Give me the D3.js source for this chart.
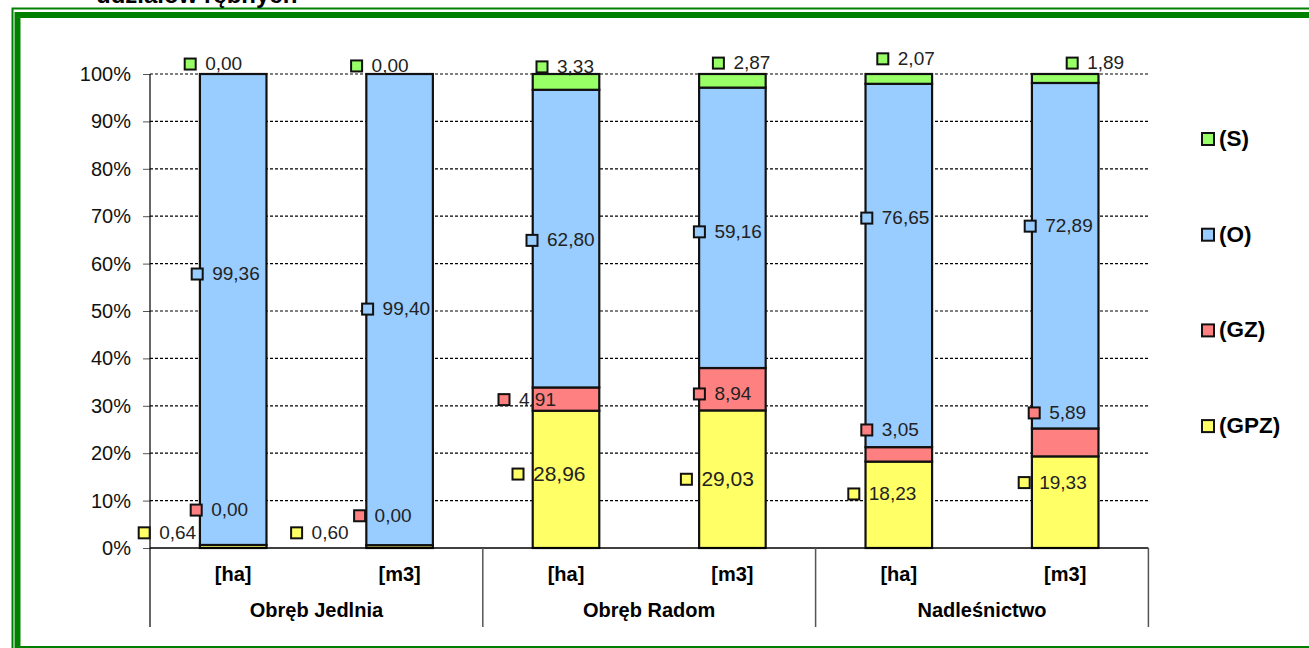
<!DOCTYPE html>
<html>
<head>
<meta charset="utf-8">
<script src="https://cdn.jsdelivr.net/npm/d3@7"></script>
<style>
  html, body { margin: 0; padding: 0; background: #fff; }
  svg { display: block; font-family: 'Liberation Sans', Arial, sans-serif; }
  .lbl { font-family: 'Liberation Sans Narrow', 'Liberation Sans', Arial, sans-serif; }
</style>
</head>
<body>
<div id="chart"></div>
<script>
// data
const bars = ['[ha]', '[m3]', '[ha]', '[m3]', '[ha]', '[m3]'];
const groups = ['Obręb Jedlnia', 'Obręb Radom', 'Nadleśnictwo'];
const keys = ['GPZ', 'GZ', 'O', 'S'];
const gpz = [0.64, 0.6, 28.96, 29.03, 18.23, 19.33];
const gz = [0.0, 0.0, 4.91, 8.94, 3.05, 5.89];
const o = [99.36, 99.4, 62.8, 59.16, 76.65, 72.89];
const s = [0.0, 0.0, 3.33, 2.87, 2.07, 1.89];
const yTicks = [0, 10, 20, 30, 40, 50, 60, 70, 80, 90, 100];
const title = 'udziałów rębnych';

// label placement (moved by hand in the original): dx from bar centre in px, y in % units
const labelDx = {
  GPZ: [-89, -103, -48, -46, -45, -41],
  GZ: [-37, -40, -62, -33, -32, -31],
  O: [-36, -32, -34, -33, -32, -35],
  S: [-43, -43, -24, -14, -16, 7],
};
const labelAt = {
  GPZ: [3.2, 3.2, 15.6, 14.5, 11.4, 13.8],
  GZ: [8.0, 6.8, 31.3, 32.5, 24.9, 28.5],
  O: [57.8, 50.4, 64.9, 66.7, 69.6, 67.9],
  S: [102.1, 101.7, 101.5, 102.3, 103.2, 102.3],
};

const colors = { GPZ: '#ffff66', GZ: '#ff8080', O: '#99ccff', S: '#99ff66' };
const values = { GPZ: gpz, GZ: gz, O: o, S: s };

const W = 1309;
const H = 648;
const plot = { l: 150, r: 1148.4, t: 74, b: 548 };

const svg = d3.select('#chart').append('svg').attr('width', W).attr('height', H);

// frame (double green border, cut by the crop)
svg.append('rect')
  .attr('x', 12.5).attr('y', 8.5).attr('width', 1400).attr('height', 660)
  .attr('fill', 'none').attr('stroke', '#008000').attr('stroke-width', 2);
svg.append('rect')
  .attr('x', 17.5).attr('y', 15).attr('width', 1400).attr('height', 634)
  .attr('fill', 'none').attr('stroke', '#008000').attr('stroke-width', 6);

// cut-off title
svg.append('text')
  .attr('x', 96).attr('y', 3)
  .style('font-size', '24px').style('font-weight', 'bold')
  .text(title);

const table = bars.map((b, i) => {
  const row = { i };
  keys.forEach((k) => { row[k] = values[k][i]; });
  return row;
});
const stacked = d3.stack().keys(keys)(table);

const x = d3.scaleBand().domain(d3.range(bars.length)).range([plot.l, plot.r])
  .paddingInner(0.6).paddingOuter(0.3);
const y = d3.scaleLinear().domain([0, 100]).range([plot.b, plot.t]);

// gridlines
svg.append('g')
  .selectAll('line')
  .data(yTicks.filter((d) => d > 0))
  .join('line')
  .attr('x1', plot.l).attr('x2', plot.r)
  .attr('y1', (d) => y(d)).attr('y2', (d) => y(d))
  .attr('stroke', '#000').attr('stroke-width', 1.2).attr('stroke-dasharray', '3,2');

// y axis
const yAxis = svg.append('g')
  .attr('transform', `translate(${plot.l},0)`)
  .call(d3.axisLeft(y).tickValues(yTicks).tickSize(7).tickSizeOuter(0).tickPadding(12)
    .tickFormat((d) => `${d}%`));
yAxis.select('.domain').remove();
yAxis.selectAll('line').attr('stroke', '#555');
yAxis.selectAll('text').style('font-size', '20px').attr('fill', '#111')
  .style('font-family', "'Liberation Sans', Arial, sans-serif");

svg.append('line')
  .attr('x1', plot.l).attr('x2', plot.l).attr('y1', plot.t).attr('y2', 627)
  .attr('stroke', '#000').attr('stroke-width', 1.2);

// bars
svg.append('g')
  .selectAll('g')
  .data(stacked)
  .join('g')
  .attr('fill', (d) => colors[d.key])
  .selectAll('rect')
  .data((d) => d)
  .join('rect')
  .attr('x', (d) => x(d.data.i))
  .attr('width', x.bandwidth())
  .attr('y', (d) => y(d[1]))
  .attr('height', (d) => y(d[0]) - y(d[1]))
  .attr('stroke', '#111').attr('stroke-width', 2.2);

// category axis line and group separators
svg.append('line')
  .attr('x1', plot.l).attr('x2', plot.r).attr('y1', plot.b).attr('y2', plot.b)
  .attr('stroke', '#000').attr('stroke-width', 1.5);

const groupX = d3.scaleLinear().domain([0, groups.length]).range([plot.l, plot.r]);
svg.append('g')
  .selectAll('line')
  .data(d3.range(1, groups.length + 1))
  .join('line')
  .attr('x1', (d) => groupX(d)).attr('x2', (d) => groupX(d))
  .attr('y1', plot.b).attr('y2', 627)
  .attr('stroke', '#555').attr('stroke-width', 1.5);

svg.append('g')
  .selectAll('text')
  .data(bars)
  .join('text')
  .attr('x', (d, i) => x(i) + x.bandwidth() / 2)
  .attr('y', 576)
  .attr('text-anchor', 'middle').attr('dominant-baseline', 'middle')
  .style('font-size', '20px').style('font-weight', 'bold')
  .text((d) => d);

svg.append('g')
  .selectAll('text')
  .data(groups)
  .join('text')
  .attr('x', (d, i) => groupX(i + 0.5))
  .attr('y', 612)
  .attr('text-anchor', 'middle').attr('dominant-baseline', 'middle')
  .style('font-size', '20px').style('font-weight', 'bold')
  .text((d) => d);

// data labels with legend keys
const pl = d3.formatLocale({ decimal: ',', thousands: ' ', grouping: [3], currency: ['', ' zł'] });
const fmt = pl.format('.2f');
const big = new Set(['GPZ2', 'GPZ3']);

const labels = [];
keys.forEach((k) => {
  values[k].forEach((v, i) => {
    labels.push({
      key: k, v, i,
      cx: x(i) + x.bandwidth() / 2 + labelDx[k][i],
      cy: y(labelAt[k][i]),
    });
  });
});

const lab = svg.append('g').selectAll('g').data(labels).join('g');
lab.append('rect')
  .attr('x', (d) => d.cx - 5.5).attr('y', (d) => d.cy - 5.5)
  .attr('width', 11).attr('height', 11)
  .attr('fill', (d) => colors[d.key]).attr('stroke', '#111').attr('stroke-width', 2);
lab.append('text')
  .attr('class', (d) => (big.has(d.key + d.i) ? '' : 'lbl'))
  .attr('x', (d) => d.cx + 15)
  .attr('y', (d) => d.cy + 1)
  .attr('dominant-baseline', 'middle')
  .attr('fill', '#222')
  .style('font-size', (d) => (big.has(d.key + d.i) ? '21px' : '19px'))
  .text((d) => fmt(d.v));

// legend
const legendKeys = keys.slice().reverse();
const leg = svg.append('g').selectAll('g').data(legendKeys).join('g')
  .attr('transform', (d, i) => `translate(1208,${139 + i * 95.7})`);
leg.append('rect')
  .attr('x', -6).attr('y', -6).attr('width', 12).attr('height', 12)
  .attr('fill', (d) => colors[d]).attr('stroke', '#111').attr('stroke-width', 2);
leg.append('text')
  .attr('x', 11).attr('y', 1)
  .attr('dominant-baseline', 'middle')
  .style('font-size', '22.5px').style('font-weight', 'bold')
  .text((d) => `(${d})`);
</script>
</body>
</html>
